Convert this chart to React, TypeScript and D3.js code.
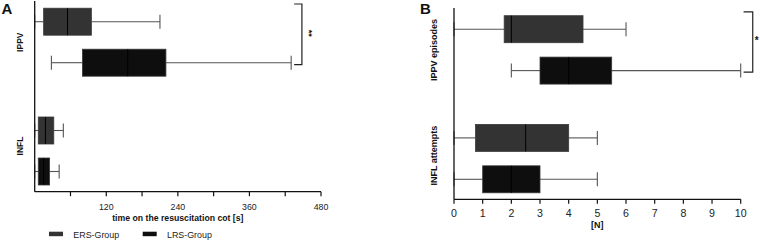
import React from "react";
import * as d3 from "d3";

// ---------- data ----------
const groups = ["ERS-Group", "LRS-Group"];
const groupColors = ["#333333", "#0e0e0e"];

// Panel A: time on the resuscitation cot [s]  (min, q1, median, q3, max)
const aCategories = ["IPPV", "INFL"];
const aIppvErs = [0, 15, 55, 95, 210];
const aIppvLrs = [28, 80, 156, 220, 430];
const aInflErs = [0, 6, 18, 32, 48];
const aInflLrs = [0, 6, 15, 25, 41];
const aTickValues = [60, 120, 180, 240, 300, 360, 420, 480];
const aTickLabels = ["", "120", "", "240", "", "360", "", "480"];
const aTitle = "time on the resuscitation cot [s]";
const aSig = "**";

// Panel B: counts [N]
const bCategories = ["IPPV episodes", "INFL attempts"];
const bIppvErs = [0, 1.75, 2, 4.5, 6];
const bIppvLrs = [2, 3, 4, 5.5, 10];
const bInflErs = [0, 0.75, 2.5, 4, 5];
const bInflLrs = [0, 1, 2, 3, 5];
const bTickValues = [0, 1, 2, 3, 4, 5, 6, 7, 8, 9, 10];
const bTitle = "[N]";
const bSig = "*";

const FONT = "'Liberation Sans', Arial, sans-serif";

type BoxProps = {
  stats: number[];
  x: d3.ScaleLinear<number, number>;
  cy: number;
  h: number;
  fill: string;
};

function Box({ stats, x, cy, h, fill }: BoxProps) {
  const [mn, q1, md, q3, mx] = stats;
  const capH = 14;
  const wc = "#555";
  return (
    <g>
      <line x1={x(mn)} x2={x(q1)} y1={cy} y2={cy} stroke={wc} strokeWidth={1.1} />
      <line x1={x(q3)} x2={x(mx)} y1={cy} y2={cy} stroke={wc} strokeWidth={1.1} />
      <line x1={x(mn)} x2={x(mn)} y1={cy - capH / 2} y2={cy + capH / 2} stroke={wc} strokeWidth={1.1} />
      <line x1={x(mx)} x2={x(mx)} y1={cy - capH / 2} y2={cy + capH / 2} stroke={wc} strokeWidth={1.1} />
      <rect x={x(q1)} y={cy - h / 2} width={x(q3) - x(q1)} height={h} fill={fill} stroke="#3a3a3a" strokeWidth={0.8} />
      <line x1={x(md)} x2={x(md)} y1={cy - h / 2} y2={cy + h / 2} stroke="#000" strokeWidth={1} />
    </g>
  );
}

export default function App() {
  // ----- Panel A scales -----
  const ax = d3.scaleLinear().domain([0, 480]).range([34.7, 321]);
  const ay = d3.scalePoint<string>().domain(aCategories).range([42.2, 151]);
  const aSub = d3.scalePoint<string>().domain(groups).range([-20.5, 20.5]);
  const aBottom = 191.7;
  const aTop = 1;
  const aData = [
    [aIppvErs, aIppvLrs],
    [aInflErs, aInflLrs],
  ];

  // ----- Panel B scales -----
  const bx = d3.scaleLinear().domain([0, 10]).range([454, 740.7]);
  const by = d3.scalePoint<string>().domain(bCategories).range([49.9, 158.6]);
  const bSub = d3.scalePoint<string>().domain(groups).range([-20.7, 20.7]);
  const bBottom = 199.3;
  const bTop = 8;
  const bData = [
    [bIppvErs, bIppvLrs],
    [bInflErs, bInflLrs],
  ];

  const boxH = 27;

  const aErsY = (ay(aCategories[0]) as number) + (aSub(groups[0]) as number);
  const aLrsY = (ay(aCategories[0]) as number) + (aSub(groups[1]) as number);
  const bErsY = (by(bCategories[0]) as number) + (bSub(groups[0]) as number);
  const bLrsY = (by(bCategories[0]) as number) + (bSub(groups[1]) as number);

  return (
    <svg
      width={760}
      height={240}
      style={{ position: "absolute", left: 0, top: 0, background: "#fff" }}
      fontFamily={FONT}
    >
      {/* Panel labels */}
      <text x={1.5} y={13.5} fontSize={15} fontWeight="bold" fill="#111">A</text>
      <text x={420} y={14} fontSize={15} fontWeight="bold" fill="#111">B</text>

      {/* ================= Panel A ================= */}
      {aData.map((pair, ci) =>
        pair.map((stats, gi) => (
          <Box
            key={`a-${ci}-${gi}`}
            stats={stats}
            x={ax}
            cy={(ay(aCategories[ci]) as number) + (aSub(groups[gi]) as number)}
            h={boxH}
            fill={groupColors[gi]}
          />
        ))
      )}
      <line x1={ax(0)} x2={ax(0)} y1={aTop} y2={aBottom} stroke="#111" strokeWidth={1.3} />
      <line x1={ax(0)} x2={ax(480)} y1={aBottom} y2={aBottom} stroke="#111" strokeWidth={1.3} />
      {aTickValues.map((v, i) => (
        <g key={`at-${i}`}>
          <line x1={ax(v)} x2={ax(v)} y1={aBottom} y2={aBottom + 4.5} stroke="#111" strokeWidth={1.2} />
          <text x={ax(v)} y={aBottom + 17.8} fontSize={8.8} textAnchor="middle" fill="#222">
            {aTickLabels[i]}
          </text>
        </g>
      ))}
      <text x={(ax(0) + ax(480)) / 2} y={220.5} fontSize={8.7} fontWeight="bold" textAnchor="middle" fill="#111">
        {aTitle}
      </text>
      {aCategories.map((c, i) => (
        <text
          key={`ac-${i}`}
          transform={`translate(22.5,${(ay(c) as number) - (i === 0 ? 0 : 5)}) rotate(-90)`}
          fontSize={8.5}
          fontWeight="bold"
          textAnchor="middle"
          fill="#111"
        >
          {c}
        </text>
      ))}
      {/* significance bracket A */}
      <path
        d={`M${ax(435)},${aErsY - 17.7} H${ax(448)} V${aLrsY + 2} H${ax(435)}`}
        fill="none"
        stroke="#222"
        strokeWidth={1.2}
      />
      <text
        transform={`translate(306,${(aErsY + aLrsY) / 2 - 9}) rotate(90)`}
        fontSize={9}
        fontWeight="bold"
        textAnchor="middle"
        fill="#111"
      >
        {aSig}
      </text>

      {/* Legend */}
      {groups.map((g, i) => (
        <g key={`lg-${i}`} transform={`translate(${49 + i * 93.7},0)`}>
          <rect x={0} y={231.7} width={14} height={4.5} fill={groupColors[i]} />
          <text x={24.3} y={237.5} fontSize={8.9} fill="#222">{g}</text>
        </g>
      ))}

      {/* ================= Panel B ================= */}
      {bData.map((pair, ci) =>
        pair.map((stats, gi) => (
          <Box
            key={`b-${ci}-${gi}`}
            stats={stats}
            x={bx}
            cy={(by(bCategories[ci]) as number) + (bSub(groups[gi]) as number)}
            h={boxH}
            fill={groupColors[gi]}
          />
        ))
      )}
      <line x1={bx(0)} x2={bx(0)} y1={bTop} y2={bBottom} stroke="#111" strokeWidth={1.3} />
      <line x1={bx(0)} x2={bx(10)} y1={bBottom} y2={bBottom} stroke="#111" strokeWidth={1.3} />
      {bTickValues.map((v, i) => (
        <g key={`bt-${i}`}>
          <line x1={bx(v)} x2={bx(v)} y1={bBottom} y2={bBottom + 4.5} stroke="#111" strokeWidth={1.2} />
          <text x={bx(v)} y={bBottom + 17.8} fontSize={10.6} textAnchor="middle" fill="#222">
            {String(v)}
          </text>
        </g>
      ))}
      <text x={(bx(0) + bx(10)) / 2} y={227.5} fontSize={9} fontWeight="bold" textAnchor="middle" fill="#111">
        {bTitle}
      </text>
      {bCategories.map((c, i) => (
        <text
          key={`bc-${i}`}
          transform={`translate(436.5,${(by(c) as number) - (i === 0 ? 0 : 3)}) rotate(-90)`}
          fontSize={9}
          fontWeight="bold"
          textAnchor="middle"
          fill="#111"
        >
          {c}
        </text>
      ))}
      {/* significance bracket B */}
      <path
        d={`M${bx(10.1)},${bErsY - 17.3} H${bx(10.42)} V${bLrsY + 1.6} H${bx(10.1)}`}
        fill="none"
        stroke="#222"
        strokeWidth={1.2}
      />
      <text
        x={756.7}
        y={(bErsY + bLrsY) / 2 - 6}
        fontSize={10}
        fontWeight="bold"
        textAnchor="middle"
        fill="#111"
      >
        {bSig}
      </text>
    </svg>
  );
}
